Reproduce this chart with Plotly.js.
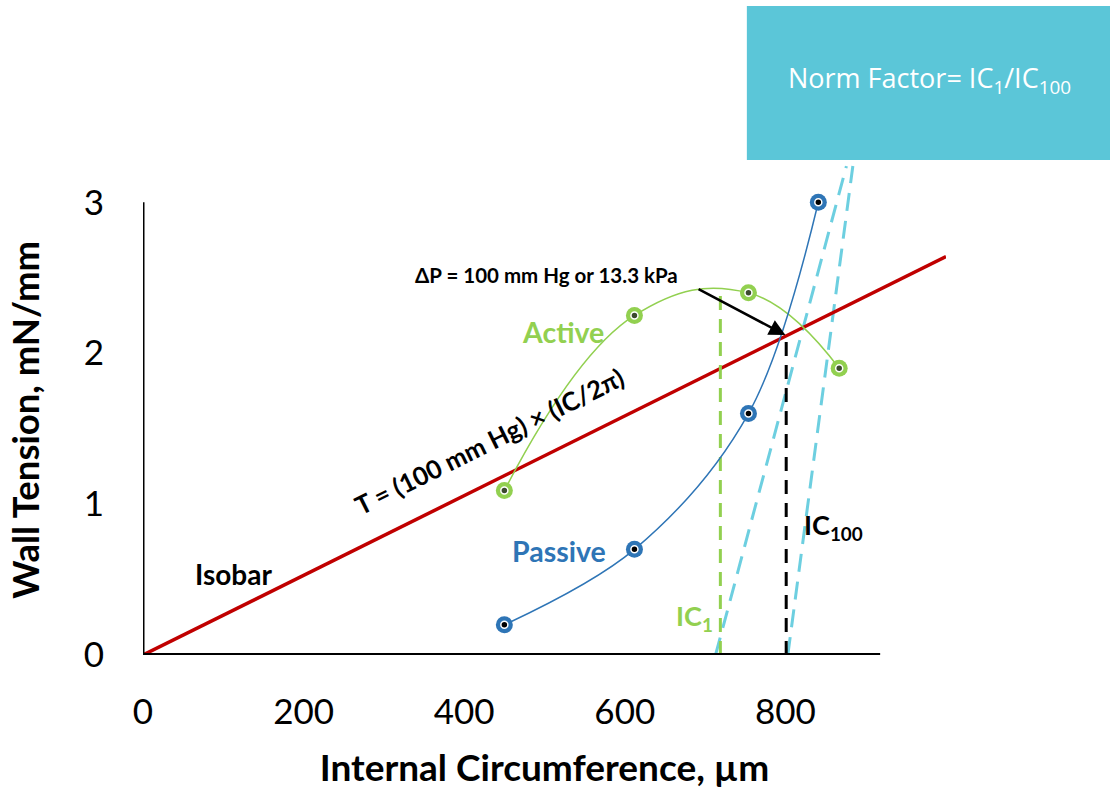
<!DOCTYPE html>
<html>
<head>
<meta charset="utf-8">
<script src="https://cdn.plot.ly/plotly-3.0.1.min.js"></script>
<style>html,body{margin:0;padding:0;background:#fff;}#chart{width:1110px;height:792px;}</style>
</head>
<body>
<div id="chart"></div>
<script>
// Data
var passiveX = [450, 612, 754, 841];
var passiveY = [0.2, 0.7, 1.6, 3.0];
var activeX = [450, 612, 754, 867];
var activeY = [1.09, 2.25, 2.40, 1.90];
var isobarX = [0, 1000];
var isobarY = [0, 2.64];
var ic1LineX = [713, 876];
var ic1LineY = [0, 3.24];
var ic100LineX = [803, 884];
var ic100LineY = [0, 3.24];
var ic1X = [719, 719];
var ic1Y = [0, 2.42];
var ic100X = [801, 801];
var ic100Y = [0, 2.12];
var xTicks = [0, 200, 400, 600, 800];
var yTicks = [0, 1, 2, 3];

var FONT = 'Lato, "Open Sans", sans-serif';
var BLUE = '#2e75b6', GREEN = '#92d050', RED = '#c00000', CYAN = '#6dcfe0';

var traces = [
  {x: ic1LineX, y: ic1LineY, mode: 'lines', line: {color: CYAN, width: 3, dash: '18px,10px'}, hoverinfo: 'skip'},
  {x: ic100LineX, y: ic100LineY, mode: 'lines', line: {color: CYAN, width: 3, dash: '18px,10px'}, hoverinfo: 'skip'},
  {x: isobarX, y: isobarY, mode: 'lines', line: {color: RED, width: 3.5}},
  {x: ic1X, y: ic1Y, mode: 'lines', line: {color: GREEN, width: 3, dash: '14px,9px'}},
  {x: ic100X, y: ic100Y, mode: 'lines', line: {color: '#000', width: 3, dash: '14px,9px'}},
  {x: activeX, y: activeY, mode: 'lines+markers', line: {color: GREEN, width: 1.5, shape: 'spline', smoothing: 1.2},
   marker: {size: 17, color: GREEN}},
  {x: activeX, y: activeY, mode: 'markers', marker: {size: 7, color: '#3b4a2e', line: {color: '#fff', width: 1.5}}},
  {x: passiveX, y: passiveY, mode: 'lines+markers', line: {color: BLUE, width: 1.5, shape: 'spline', smoothing: 1.0},
   marker: {size: 17, color: BLUE}},
  {x: passiveX, y: passiveY, mode: 'markers', marker: {size: 7, color: '#000', line: {color: '#fff', width: 1.5}}}
];

var layout = {
  width: 1110, height: 792,
  margin: {l: 143, r: 164, t: 157, b: 137},
  paper_bgcolor: '#fff', plot_bgcolor: '#fff',
  showlegend: false,
  xaxis: {
    range: [0, 1000], tickvals: xTicks, ticktext: xTicks.map(String),
    showgrid: false, zeroline: false, showline: false, ticks: '',
    ticklabelstandoff: 33,
    tickfont: {family: FONT, size: 35, color: '#000'},
    title: {text: '<b>Internal Circumference, µm</b>', font: {family: FONT, size: 37, color: '#000'}, standoff: 25}
  },
  yaxis: {
    range: [0, 3.3], tickvals: yTicks, ticktext: yTicks.map(String),
    showgrid: false, zeroline: false, showline: false, ticks: '',
    ticklabelstandoff: 38,
    tickfont: {family: FONT, size: 35, color: '#000'}
  },
  shapes: [
    {type: 'line', xref: 'x', yref: 'y', x0: 0, x1: 918, y0: 0, y1: 0, line: {color: '#000', width: 4}},
    {type: 'line', xref: 'x', yref: 'y', x0: 0, x1: 0, y0: 0, y1: 3, line: {color: '#000', width: 3}},
    {type: 'rect', xref: 'paper', yref: 'paper', x0: 0.752, x1: 1.21, y0: 0.994, y1: 1.303,
     fillcolor: '#5bc6d8', line: {width: 0}}
  ],
  annotations: [
    {xref: 'paper', yref: 'y', x: -0.148, y: 1.56, xanchor: 'center', yanchor: 'middle', showarrow: false, textangle: -90,
     text: '<b>Wall Tension, mN/mm</b>', font: {family: FONT, size: 36.5, color: '#000'}},
    {xref: 'paper', yref: 'paper', x: 0.979, y: 1.156, xanchor: 'center', yanchor: 'middle', showarrow: false,
     text: 'Norm Factor= IC<sub>1</sub>/IC<sub>100</sub>', font: {family: '"Open Sans", sans-serif', size: 27, color: '#fff'}},
    {x: 800, y: 2.12, ax: 690, ay: 2.43, axref: 'x', ayref: 'y', showarrow: true, arrowhead: 2, arrowsize: 1.3,
     arrowwidth: 2.5, arrowcolor: '#000', text: ''},
    {x: 502, y: 2.52, xanchor: 'center', yanchor: 'middle', showarrow: false,
     text: '<b>ΔP = 100 mm Hg or 13.3 kPa</b>', font: {family: FONT, size: 20.5, color: '#000'}},
    {x: 523, y: 2.14, xanchor: 'center', yanchor: 'middle', showarrow: false,
     text: '<b>Active</b>', font: {family: FONT, size: 28.5, color: GREEN}},
    {x: 518, y: 0.69, xanchor: 'center', yanchor: 'middle', showarrow: false,
     text: '<b>Passive</b>', font: {family: FONT, size: 28.5, color: BLUE}},
    {x: 113, y: 0.54, xanchor: 'center', yanchor: 'middle', showarrow: false,
     text: '<b>Isobar</b>', font: {family: FONT, size: 28, color: '#000'}},
    {x: 431, y: 1.42, xanchor: 'center', yanchor: 'middle', showarrow: false, textangle: -26.4,
     text: '<b>T = (100 mm Hg) × (IC/2π)</b>', font: {family: FONT, size: 25.5, color: '#000'}},
    {x: 687, y: 0.25, xanchor: 'center', yanchor: 'middle', showarrow: false,
     text: '<b>IC<sub>1</sub></b>', font: {family: FONT, size: 27, color: GREEN}},
    {x: 860, y: 0.85, xanchor: 'center', yanchor: 'middle', showarrow: false,
     text: '<b>IC<sub>100</sub></b>', font: {family: FONT, size: 27, color: '#000'}}
  ]
};

Plotly.newPlot('chart', traces, layout, {staticPlot: true, displayModeBar: false});
</script>
</body>
</html>
